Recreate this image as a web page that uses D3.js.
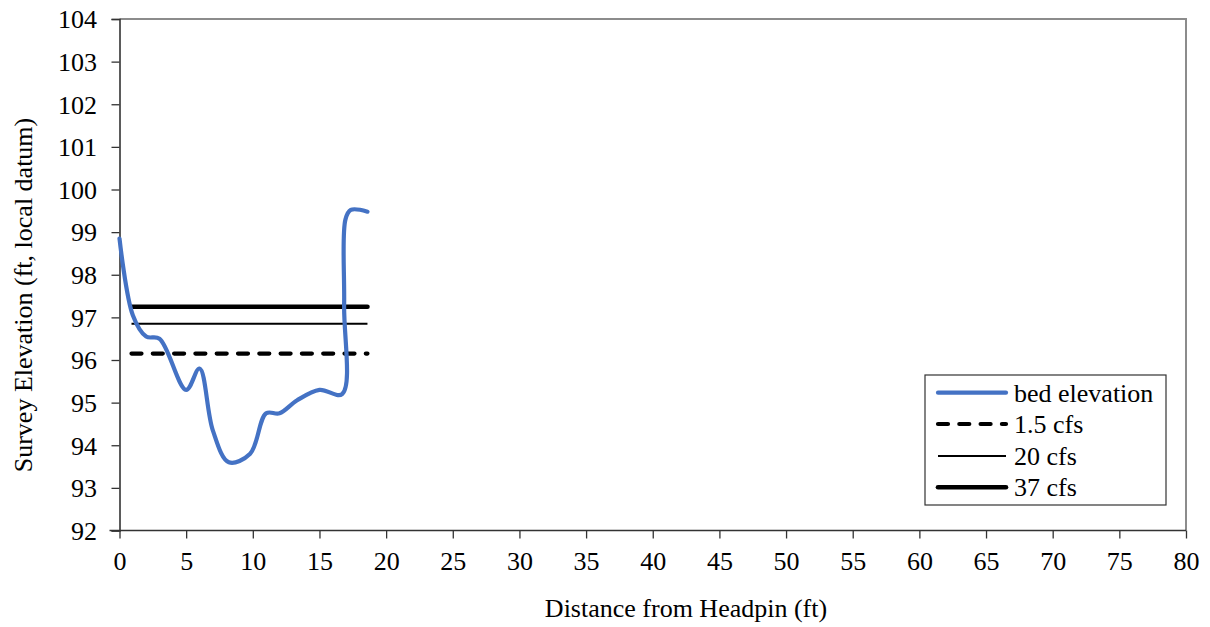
<!DOCTYPE html>
<html><head><meta charset="utf-8">
<script src="https://cdn.jsdelivr.net/npm/d3@7"></script>
</head>
<body style="margin:0;background:#fff"><svg id="c" width="1210" height="627" font-family="Liberation Serif" style="font-family:'Liberation Serif'"></svg>
<script>
// Data
const bedX = [0, 1, 2, 3, 5, 6, 7, 8.2, 9.8, 11, 12, 13.3, 15, 16.7, 16.85, 16.95, 17.35, 18.6];
const bedY = [98.85, 97.05, 96.55, 96.5, 95.3, 95.8, 94.35, 93.6, 93.8, 94.75, 94.75, 95.05, 95.3, 95.2, 97.3, 99.3, 99.52, 99.48];
const flowNames = ["1.5 cfs", "20 cfs", "37 cfs"];
const flowLevels = [96.15, 96.85, 97.25];
const flowStart = [0.9, 0.9, 0.9];
const flowEnd = [18.6, 18.6, 18.6];
const xTicks = [0,5,10,15,20,25,30,35,40,45,50,55,60,65,70,75,80];
const yTicks = [92,93,94,95,96,97,98,99,100,101,102,103,104];
const legendLabels = ["bed elevation"].concat(flowNames);

const FAM = "Liberation Serif";
const svg = d3.select("#c");
const L = 119.5, R = 1186, T = 19, B = 530.5;
const x = d3.scaleLinear().domain([0,80]).range([L,R]);
const y = d3.scaleLinear().domain([92,104]).range([B,T]);
const FS = 26;
function font(sel){ return sel.attr("font-family",FAM).style("font-family",`'${FAM}'`).attr("font-size",FS).style("font-size",FS+"px").attr("fill","#000"); }

// plot border (gray top/right)
svg.append("path").attr("d", `M${L},${T}H${R}V${B}`).attr("fill","none")
  .attr("stroke","#8c8c8c").attr("stroke-width",2);

// axes
const xa = svg.append("g").attr("transform",`translate(0,${B})`)
  .call(d3.axisBottom(x).tickValues(xTicks).tickSize(8).tickPadding(13.5).tickFormat(d3.format("d")));
const ya = svg.append("g").attr("transform",`translate(${L},0)`)
  .call(d3.axisLeft(y).tickValues(yTicks).tickSize(8).tickPadding(14.5).tickFormat(d3.format("d")));
[xa, ya].forEach(g=>{
  g.attr("font-family",FAM).attr("font-size",FS);
  g.select(".domain").attr("stroke","#333").attr("stroke-width",1.6);
  g.selectAll(".tick line").attr("stroke","#333").attr("stroke-width",1.3);
  font(g.selectAll(".tick text"));
});
xa.select(".domain").attr("d", `M${L-10},0H${R}`);
ya.selectAll(".tick text").attr("dy","0.34em");

// titles
font(svg.append("text").attr("x",686).attr("y",617).attr("text-anchor","middle"))
  .text("Distance from Headpin (ft)");
font(svg.append("text").attr("transform","translate(32,295) rotate(-90)").attr("text-anchor","middle"))
  .text("Survey Elevation (ft, local datum)");

// flow lines
const styles = [
  {w:4.2, dash:"10,11.3", cap:"round"},
  {w:1.8, dash:null, cap:"butt"},
  {w:4.6, dash:null, cap:"round"}
];
flowLevels.forEach((lv,i)=>{
  const l = svg.append("line").attr("x1",x(flowStart[i])).attr("x2",x(flowEnd[i]))
    .attr("y1",y(lv)).attr("y2",y(lv)).attr("stroke","#000")
    .attr("stroke-width",styles[i].w).attr("stroke-linecap",styles[i].cap);
  if (styles[i].dash) l.attr("stroke-dasharray",styles[i].dash);
});

// bed line
const pts = bedX.map((d,i)=>[d,bedY[i]]);
svg.append("path").datum(pts)
  .attr("d", d3.line().x(d=>x(d[0])).y(d=>y(d[1])).curve(d3.curveCatmullRom.alpha(0.5)))
  .attr("fill","none").attr("stroke","#4472c4").attr("stroke-width",4.2).attr("stroke-linecap","round");

// legend
const lg = svg.append("g");
lg.append("rect").attr("x",925).attr("y",375).attr("width",241).attr("height",130)
  .attr("fill","#fff").attr("stroke","#333").attr("stroke-width",1.2);
const ly = [392.7, 424, 456, 487.3];
const lstyles = [{c:"#4472c4",w:4.2,dash:null,cap:"round"}].concat(styles.map(s=>({c:"#000",...s})));
legendLabels.forEach((t,i)=>{
  const l = lg.append("line").attr("x1",938).attr("x2",1006).attr("y1",ly[i]).attr("y2",ly[i])
    .attr("stroke",lstyles[i].c).attr("stroke-width",lstyles[i].w).attr("stroke-linecap",lstyles[i].cap);
  if (lstyles[i].dash) l.attr("stroke-dasharray","10,11.3");
  font(lg.append("text").attr("x",1014).attr("y",ly[i]).attr("dy","0.34em")).text(t);
});
</script></body></html>
